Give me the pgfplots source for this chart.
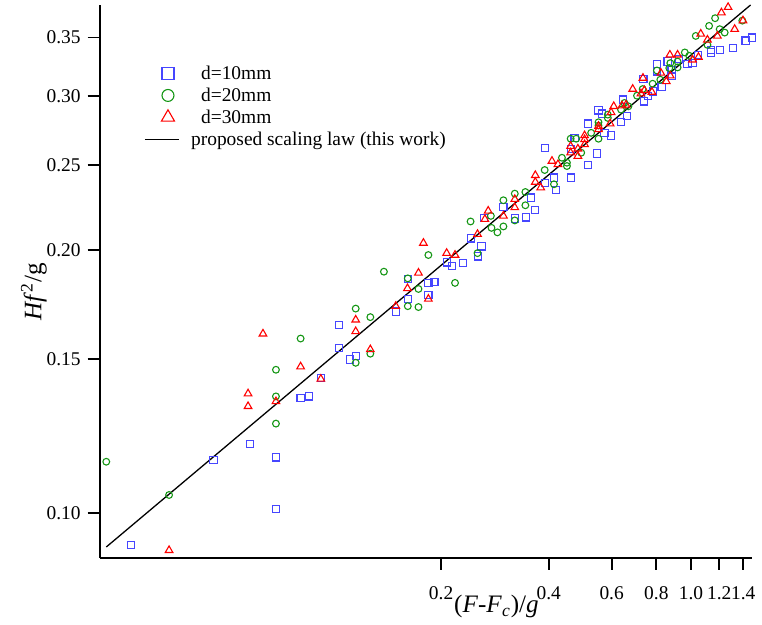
\documentclass[border=0pt]{standalone}
\usepackage{fontspec}
\setmainfont{Liberation Serif}
\usepackage{pgfplots}
\pgfplotsset{compat=1.18}

\definecolor{sqblue}{RGB}{70,70,255}
\definecolor{cgreen}{RGB}{20,150,20}
\definecolor{tred}{RGB}{255,0,0}

% legend symbol: one mark, a little right of the line's centre
\pgfplotsset{legmark/.style={legend image code/.code={\path (0cm,0cm) (0.6cm,0cm);
    \draw[##1, mark size=#1] plot coordinates {(0.3cm+3pt,0cm)};}}}

\begin{document}
\begin{tikzpicture}
\begin{axis}[
  xmode=log, ymode=log,
  scale only axis, width=327.5pt, height=277.5pt,
  xmin=0.02218, xmax=1.4842, ymin=0.08886, ymax=0.3814,
  axis x line*=bottom, axis y line*=left,
  axis line style={-, line width=0.9pt},
  tick align=outside, major tick length=6pt,
  tick style={line width=0.9pt, black},
  xtick={0.2,0.4,0.6,0.8,1.0,1.2,1.4},
  xticklabels={0.2,0.4,0.6,0.8,1.0,1.2,1.4},
  ytick={0.10,0.15,0.20,0.25,0.30,0.35},
  yticklabels={0.10,0.15,0.20,0.25,0.30,0.35},
  xminorticks=false, yminorticks=false,
  ticklabel style={font=\fontsize{9.75}{11}\selectfont},
  xticklabel style={yshift=-5pt},
  xlabel={(\textit{F}-\textit{F}\textsubscript{\textit{c}})/\textit{g}},
  xlabel style={at={(axis description cs:0.608,-0.0991)}, anchor=base,
    font=\fontsize{12.6}{14}\selectfont},
  ylabel={\textit{Hf}\textsuperscript{2}/g},
  ylabel style={at={(axis description cs:-0.0892,0.481)}, anchor=base,
    font=\fontsize{12.6}{14}\selectfont},
  clip=false,
  legend cell align=left,
  legend style={draw=none, fill=none, at={(axis description cs:0.0679,0.8966)},
    anchor=north west, inner sep=0pt, row sep=0pt,
    nodes={inner sep=0.75pt, text height=8pt, text depth=1.5pt},
    font=\fontsize{9.75}{11}\selectfont},
]

% d = 10 mm
\addplot[only marks, mark=square, mark size=1.8pt, sqblue, mark options={line width=0.55pt},
  legmark=3pt]
  coordinates {
  (1.4813,0.3500) (1.4216,0.3472) (1.3079,0.3404) (1.2032,0.3389) (1.1356,0.3389)
  (1.1356,0.3365) (1.0474,0.3344) (1.0098,0.3272) (0.9779,0.3266) (0.8603,0.3286)
  (0.8031,0.3266) (0.9273,0.3307) (0.8826,0.3215) (0.8031,0.3201) (0.8826,0.3165)
  (0.8277,0.3073) (0.7848,0.3037) (0.7566,0.2998) (0.7360,0.3138) (0.7407,0.2958)
  (0.6444,0.2972) (0.6374,0.2800) (0.6624,0.2844) (0.5978,0.2704) (0.5730,0.2723)
  (0.5513,0.2889) (0.5642,0.2865) (0.5147,0.2790) (0.5464,0.2579) (0.5147,0.2501)
  (0.4726,0.2688) (0.3898,0.2618) (0.4607,0.2611) (0.4624,0.2420) (0.4138,0.2420)
  (0.4192,0.2341) (0.3564,0.2296) (0.3656,0.2221) (0.3450,0.2179) (0.3215,0.2173)
  (0.2988,0.2240) (0.2640,0.2175) (0.2425,0.2062) (0.2595,0.2019) (0.2541,0.1967)
  (0.2150,0.1919) (0.2073,0.1936) (0.2303,0.1933) (0.1843,0.1834) (0.1916,0.1840)
  (0.1843,0.1777) (0.1614,0.1853) (0.1614,0.1758) (0.1494,0.1701) (0.1154,0.1513)
  (0.1112,0.1499) (0.1037,0.1545) (0.1037,0.1641) (0.09219,0.1428) (0.08536,0.1360)
  (0.08093,0.1355) (0.06905,0.1158) (0.06905,0.1011) (0.05832,0.1200) (0.04617,0.1150)
  (0.02718,0.09202) (0.3898,0.2388)
};
\addlegendentry{\hspace{10pt}d=10mm}

% d = 20 mm
\addplot[only marks, mark=o, mark size=1.7pt, cgreen, mark options={line width=0.55pt},
  legmark=3pt]
  coordinates {
  (1.1681,0.3683) (1.1239,0.3609) (1.2032,0.3578) (1.2424,0.3546) (1.3919,0.3660)
  (1.0313,0.3515) (1.1118,0.3433) (0.9612,0.3365) (0.9886,0.3336) (0.9173,0.3286)
  (0.8753,0.3272) (0.9173,0.3235) (0.8696,0.3230) (0.8031,0.3209) (0.8208,0.3132)
  (0.7813,0.3099) (0.7327,0.3056) (0.7064,0.3003) (0.6514,0.2946) (0.6683,0.2920)
  (0.6374,0.2895) (0.5853,0.2857) (0.5853,0.2832) (0.5513,0.2800) (0.5513,0.2776)
  (0.5513,0.2681) (0.5258,0.2723) (0.4607,0.2681) (0.4775,0.2681) (0.4931,0.2584)
  (0.4356,0.2550) (0.4498,0.2517) (0.4498,0.2495) (0.3898,0.2469) (0.4138,0.2378)
  (0.3442,0.2330) (0.3215,0.2320) (0.3442,0.2250) (0.2988,0.2280) (0.2756,0.2188)
  (0.2988,0.2128) (0.2767,0.2120) (0.2875,0.2095) (0.2418,0.2156) (0.3215,0.2162)
  (0.2529,0.1984) (0.1843,0.1974) (0.1384,0.1889) (0.1614,0.1856) (0.2188,0.1834)
  (0.1729,0.1805) (0.1614,0.1725) (0.1729,0.1721) (0.1268,0.1676) (0.1154,0.1714)
  (0.1154,0.1486) (0.1268,0.1522) (0.08093,0.1584) (0.06905,0.1459) (0.06905,0.1360)
  (0.06905,0.1266) (0.03469,0.1049) (0.02315,0.1145)
};
\addlegendentry{\hspace{10pt}d=20mm}

% d = 30 mm
\addplot[only marks, mark=triangle, mark size=2.2pt, tred, mark options={line width=0.55pt},
  legmark=3.8pt]
  coordinates {
  (1.270,0.3791) (1.2165,0.3737) (1.398,0.3660) (1.325,0.3578) (1.065,0.3534)
  (1.1855,0.3515) (1.1118,0.3479) (0.8730,0.3344) (0.9173,0.3344) (1.0494,0.3324)
  (1.0098,0.3301) (0.8240,0.3188) (0.8753,0.3165) (0.8531,0.3118) (0.7341,0.3146)
  (0.6871,0.3056) (0.7407,0.3045) (0.7778,0.3032) (0.7247,0.3019) (0.6081,0.2920)
  (0.6415,0.2925) (0.6581,0.2931) (0.5978,0.2874) (0.5939,0.2790) (0.5513,0.2771)
  (0.5513,0.2747) (0.5040,0.2704) (0.5040,0.2676) (0.5040,0.2641) (0.4827,0.2611)
  (0.4607,0.2629) (0.4607,0.2584) (0.4827,0.2561) (0.4085,0.2528) (0.4246,0.2506)
  (0.3670,0.2435) (0.3670,0.2392) (0.3800,0.2357) (0.3215,0.2286) (0.3215,0.2237)
  (0.2988,0.2188) (0.2709,0.2217) (0.2652,0.2169) (0.2529,0.2085) (0.2073,0.1984)
  (0.2188,0.1974) (0.1785,0.2037) (0.1729,0.1883) (0.1611,0.1808) (0.1843,0.1758)
  (0.1494,0.1725) (0.1268,0.1539) (0.1154,0.1664) (0.1154,0.1614) (0.09219,0.1424)
  (0.08093,0.1471) (0.06905,0.1342) (0.06351,0.1604) (0.05769,0.1370) (0.05769,0.1325)
  (0.03469,0.09068)
};
\addlegendentry{\hspace{10pt}d=30mm}

% scaling law
\addplot[black, line width=0.65pt, no marks] coordinates {(0.02315,0.09147) (1.468,0.3814)};
\addlegendentry{\hspace{5pt}proposed scaling law (this work)}

\end{axis}
\path ([shift={(-50pt,-31.5pt)}]current axis.south west)
  rectangle ([shift={(3.5pt,2.5pt)}]current axis.north east);
\end{tikzpicture}
\end{document}
